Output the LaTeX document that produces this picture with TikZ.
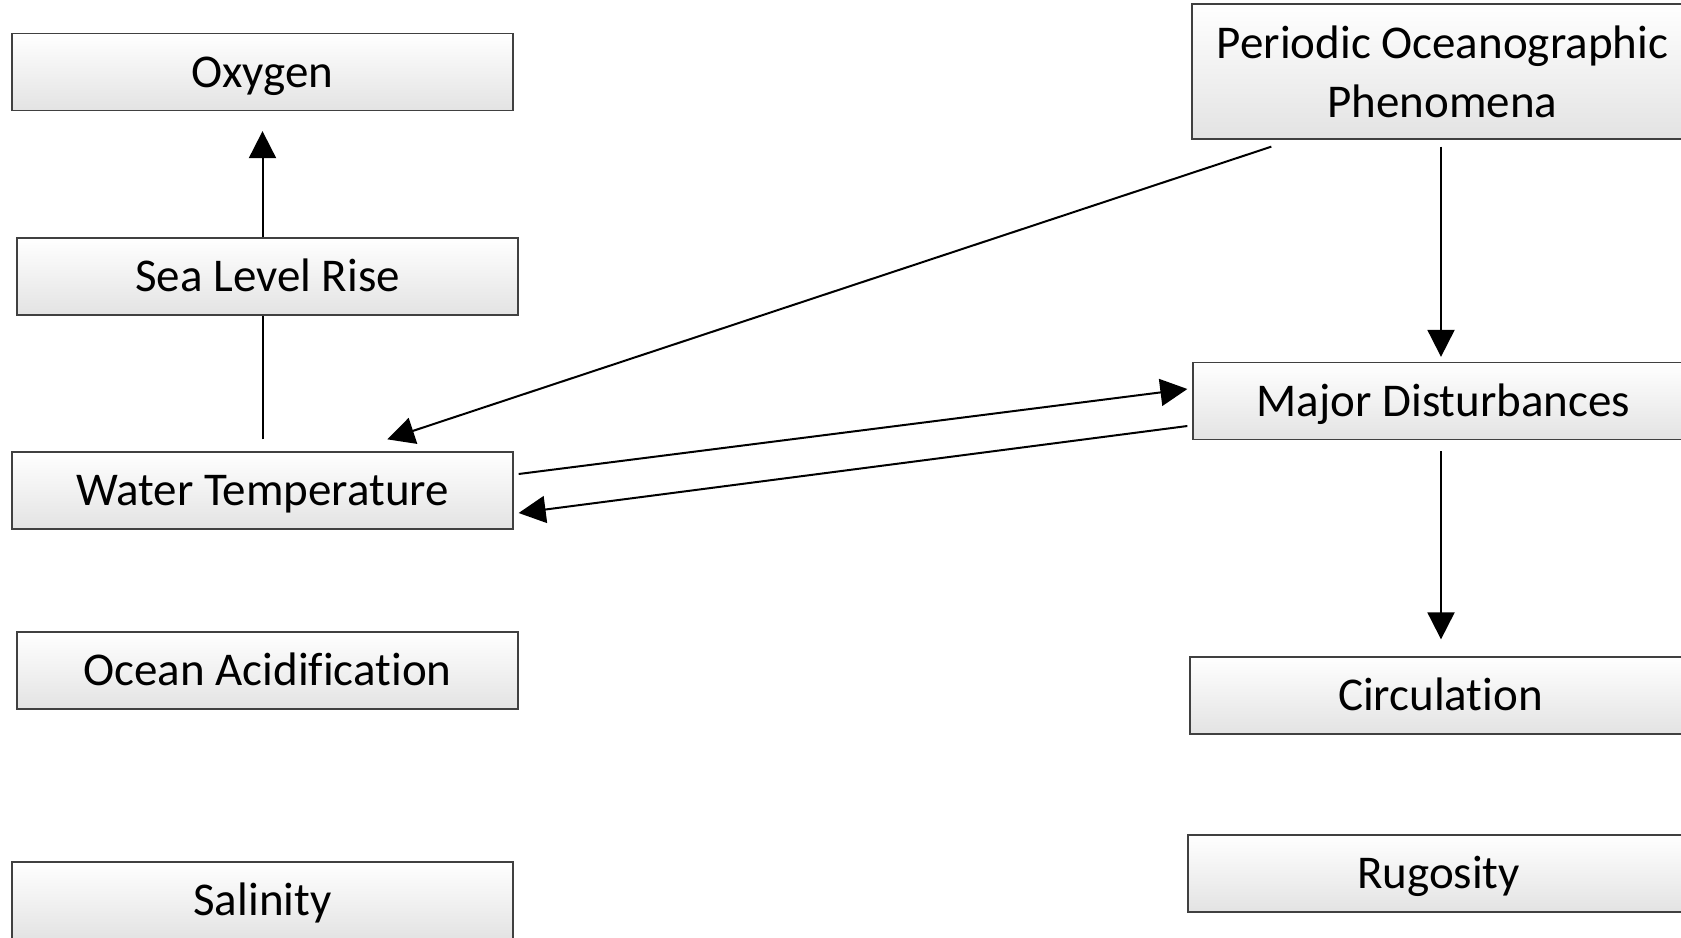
\documentclass[tikz,border=0pt]{standalone}
\usepackage{fontspec}
\setmainfont{Carlito}[Ligatures={NoCommon,NoContextual},RawFeature={-rlig}]
\usetikzlibrary{arrows.meta,calc}
\begin{document}
\begin{tikzpicture}[x=0.5pt,y=-0.5pt,
  box/.style={draw=black!75,line width=0.65pt,top color=white,bottom color=black!11,
    minimum width=250.5pt,minimum height=38.5pt,inner sep=0pt,align=center,
    font=\fontsize{23.5}{29.5}\selectfont},
  oneline/.style={text height=19.6pt,text depth=4.4pt},
  conn/.style={line width=1pt,-{Triangle[length=13.5pt,width=13.5pt]}},
  plain/.style={line width=1pt}]
\useasboundingbox (0,0) rectangle (1681,937);
\clip (0,0) rectangle (1681,937);
\node[box,oneline] (ox) at (262.5,72) {Oxygen};
\node[box,oneline] (slr) at (267.5,276.5) {Sea Level Rise};
\node[box,oneline] (wt) at (262.5,490.5) {Water Temperature};
\node[box,oneline] (oa) at (267.5,670.5) {Ocean Acidification};
\node[box,oneline] (sal) at (262.5,900.5) {Salinity};
\node[box,minimum height=67.5pt] (pop) at (1442.5,71.5) {Periodic Oceanographic\\Phenomena};
\node[box,oneline] (md) at (1443.5,401) {Major Disturbances};
\node[box,oneline] (circ) at (1440.5,695.5) {Circulation};
\node[box,oneline] (rug) at (1438.5,873.5) {Rugosity};
\draw[plain] ($(wt.north)+(0,-12)$) -- (slr.south -| wt.north);
\draw[conn] (slr.north -| ox.south) -- ($(ox.south)+(0,20)$);
\draw[conn] ($(pop.south west)+(80,7)$) -- ($(wt.north west)+(376,-12)$);
\draw[conn] ($(wt.east)+(5,-16.5)$) -- ($(md.west)+(-5,-12)$);
\draw[conn] ($(md.west)+(-5,25)$) -- ($(wt.east)+(5,22.5)$);
\draw[conn] ($(pop.south)+(-1.5,7)$) -- ($(md.north)+(-2.5,-5)$);
\draw[conn] ($(md.south)+(-2.5,11)$) -- ($(circ.north)+(0.5,-17)$);
\end{tikzpicture}
\end{document}
